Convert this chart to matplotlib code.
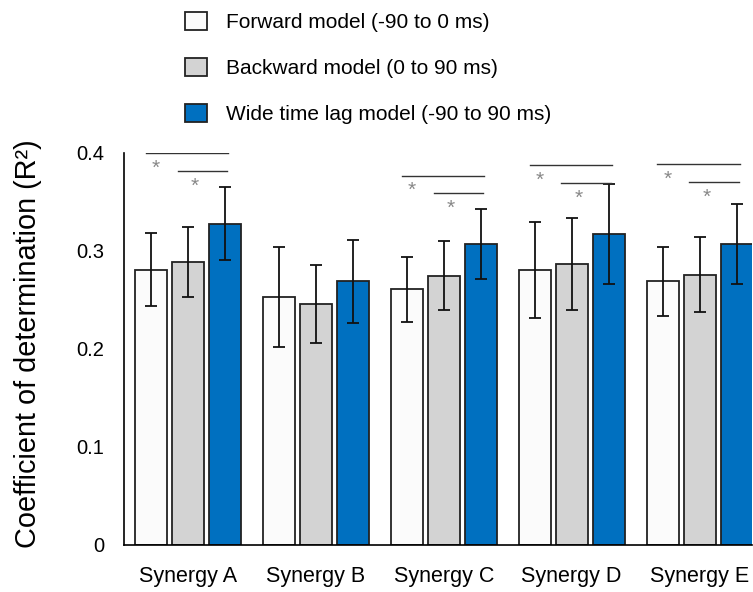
import numpy as np
import matplotlib.pyplot as plt

plt.rcParams['font.family'] = ['Liberation Sans', 'DejaVu Sans']

# data
synergies = ['Synergy A', 'Synergy B', 'Synergy C', 'Synergy D', 'Synergy E']
models = ['Forward model (-90 to 0 ms)', 'Backward model (0 to 90 ms)',
          'Wide time lag model (-90 to 90 ms)']
forward = [0.281, 0.253, 0.261, 0.281, 0.269]
forward_err = [0.037, 0.051, 0.033, 0.049, 0.035]
backward = [0.289, 0.246, 0.275, 0.287, 0.276]
backward_err = [0.036, 0.040, 0.035, 0.047, 0.038]
wide = [0.328, 0.269, 0.307, 0.317, 0.307]
wide_err = [0.037, 0.042, 0.036, 0.051, 0.041]

# significance brackets (synergy index, height of long line, height of short line)
sig_index = [0, 2, 3, 4]
sig_long = [0.400, 0.377, 0.3875, 0.389]
sig_short = [0.382, 0.359, 0.369, 0.3705]

colors = ['#fbfbfb', '#d3d3d3', '#0070c0']
yticks = [0, 0.1, 0.2, 0.3, 0.4]

fig = plt.figure(figsize=(7.53, 5.92), dpi=100)
ax = fig.add_axes([124/753, 47/592, 628/753, 392/592])

x = np.arange(len(synergies))
w = 0.25
step = 0.289
bars = []
for i, (vals, errs) in enumerate([(forward, forward_err), (backward, backward_err), (wide, wide_err)]):
    b = ax.bar(x + (i - 1) * step, vals, w, yerr=errs, color=colors[i],
               edgecolor='#222222', linewidth=1.3, label=models[i],
               error_kw=dict(ecolor='#111111', elinewidth=1.3, capsize=4, capthick=1.3))
    bars.append(b)

for k, g in enumerate(sig_index):
    ax.plot([g - step - 0.04, g + step + 0.025], [sig_long[k]] * 2, color='#333333', lw=1)
    ax.plot([g - 0.08, g + step + 0.02], [sig_short[k]] * 2, color='#333333', lw=1)
    ax.text(g - step + 0.04, sig_long[k] - 0.0155, '*', color='#888888', fontsize=15,
            ha='center', va='center')
    ax.text(g + 0.055, sig_short[k] - 0.0155, '*', color='#888888', fontsize=15,
            ha='center', va='center')

ax.set_xlim(-0.5, 4.41)
ax.set_ylim(0, 0.4)
ax.set_xticks(x)
ax.set_xticklabels(synergies, fontsize=15.5)
ax.set_yticks(yticks)
ax.set_yticklabels(['0', '0.1', '0.2', '0.3', '0.4'], fontsize=14.5)
ax.tick_params(axis='y', length=0, pad=14)
ax.tick_params(axis='x', length=0, pad=15)
ax.spines['top'].set_visible(False)
ax.spines['right'].set_visible(False)
ax.spines['left'].set_linewidth(1.2)
ax.spines['bottom'].set_linewidth(1.2)

fig.text(28/753, 1 - 344/592, 'Coefficient of determination (R²)', rotation=90,
         fontsize=20.8, ha='center', va='center')

ax.legend(handles=bars, loc='upper left', bbox_to_anchor=(185/753, 1 - 12/592),
          bbox_transform=fig.transFigure, frameon=False, fontsize=15,
          handlelength=1.06, handleheight=0.96, handletextpad=0.9,
          labelspacing=1.23, borderpad=0, borderaxespad=0)

fig.savefig('out.png', dpi=100)
